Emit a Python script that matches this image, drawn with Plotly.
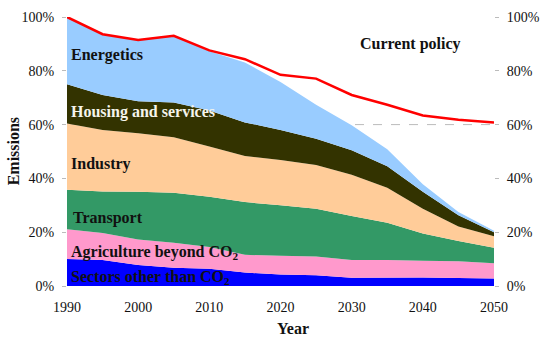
import plotly.graph_objects as go

years = [1990, 1995, 2000, 2005, 2010, 2015, 2020, 2025, 2030, 2035, 2040, 2045, 2050]

# shares of 1990 emissions (%), stacked bottom -> top
sectors_other = [10.0, 9.7, 7.8, 6.8, 6.4, 5.0, 4.3, 4.0, 3.1, 3.2, 3.2, 3.0, 2.8]
agriculture = [11.1, 10.0, 9.5, 9.3, 8.1, 6.6, 6.9, 7.0, 6.6, 6.5, 6.2, 6.2, 5.7]
transport = [14.7, 15.4, 17.7, 18.6, 18.7, 19.6, 18.8, 17.7, 16.3, 13.8, 10.1, 7.5, 5.7]
industry = [24.6, 22.9, 21.8, 20.6, 18.7, 17.1, 16.8, 16.3, 15.4, 13.0, 9.2, 5.4, 4.3]
housing = [14.6, 13.0, 11.9, 12.9, 13.3, 12.5, 11.2, 9.7, 9.1, 8.0, 6.3, 4.2, 1.5]
energetics = [25.0, 22.6, 22.8, 24.8, 22.1, 22.3, 17.8, 12.7, 9.3, 6.3, 2.8, 1.2, 0.5]

current_policy = [100, 93.6, 91.5, 93.0, 87.6, 84.3, 78.5, 77.1, 71.0, 67.4, 63.4, 61.8, 60.8]

series = [
    ("Sectors other than CO<sub>2</sub>", sectors_other, "#0000FF"),
    ("Agriculture beyond CO<sub>2</sub>", agriculture, "#FF99CC"),
    ("Transport", transport, "#339966"),
    ("Industry", industry, "#FFCC99"),
    ("Housing and services", housing, "#333300"),
    ("Energetics", energetics, "#99CCFF"),
]

y_ticks = [0, 20, 40, 60, 80, 100]
y_tick_text = ["0%", "20%", "40%", "60%", "80%", "100%"]
x_ticks = [1990, 2000, 2010, 2020, 2030, 2040, 2050]

fig = go.Figure()
for name, vals, col in series:
    fig.add_trace(go.Scatter(
        x=years, y=vals, name=name, stackgroup="one", mode="lines",
        line=dict(width=0, color=col), fillcolor=col,
    ))

fig.add_trace(go.Scatter(
    x=years, y=current_policy, name="Current policy", mode="lines",
    line=dict(color="#FF0000", width=2.5), yaxis="y2",
))

serif = "Liberation Serif, Times New Roman, serif"
tick_font = dict(family=serif, size=14, color="#111")

fig.update_layout(
    width=550, height=341,
    margin=dict(l=67, r=49, t=10, b=55),
    paper_bgcolor="white", plot_bgcolor="white",
    showlegend=False,
    font=dict(family=serif, color="#111"),
    xaxis=dict(range=[1990, 2050], tickvals=x_ticks, tickfont=tick_font,
               showgrid=False, zeroline=False, showline=False, ticks="",
               ticklabelstandoff=11),
    yaxis=dict(range=[0, 100], tickvals=y_ticks, ticktext=y_tick_text, tickfont=tick_font,
               showgrid=False, zeroline=False, showline=False,
               ticks="outside", ticklen=4, tickcolor="#bbbbbb", ticklabelstandoff=5),
    yaxis2=dict(range=[0, 100], tickvals=y_ticks, ticktext=y_tick_text, tickfont=tick_font,
                overlaying="y", side="right",
                showgrid=False, zeroline=False, showline=False,
                ticks="outside", ticklen=4, tickcolor="#bbbbbb", ticklabelstandoff=5),
)

fig.add_shape(type="line", xref="paper", yref="y", x0=0, x1=1.009, y0=60, y1=60,
              line=dict(color="#bbbbbb", width=1, dash="dash"), layer="below")

lab = dict(family=serif, size=16, color="#111")
labels = [
    ("Energetics", 1990.3, 86.0, lab),
    ("Housing and services", 1990.3, 64.6, dict(lab, color="#F5F5EC")),
    ("Industry", 1990.3, 45.5, lab),
    ("Transport", 1990.55, 25.3, lab),
    ("Agriculture beyond CO<sub>2</sub>", 1990.3, 12.6, lab),
    ("Sectors other than CO<sub>2</sub>", 1990.3, 3.0, lab),
]
for txt, x, y, f in labels:
    fig.add_annotation(x=x, y=y, xref="x", yref="y", text="<b>" + txt + "</b>",
                       showarrow=False, xanchor="left", yanchor="middle", font=f)

fig.add_annotation(x=2038.3, y=89.8, xref="x", yref="y", text="<b>Current policy</b>",
                   showarrow=False, xanchor="center", yanchor="middle",
                   font=dict(family=serif, size=16, color="#111"))

fig.add_annotation(x=(297 - 67) / 434, y=(286 - 329.3) / 276, xref="paper", yref="paper",
                   text="<b>Year</b>", showarrow=False, xanchor="center", yanchor="middle",
                   font=dict(family=serif, size=16, color="#111"))

fig.add_annotation(x=(13 - 67) / 434, y=0.5, xref="paper", yref="paper",
                   text="<b>Emissions</b>", textangle=-90, showarrow=False,
                   xanchor="center", yanchor="middle",
                   font=dict(family=serif, size=16, color="#111"))

fig.write_html("out.html", config={"displayModeBar": False},
               post_script="document.body.style.margin='0';")
